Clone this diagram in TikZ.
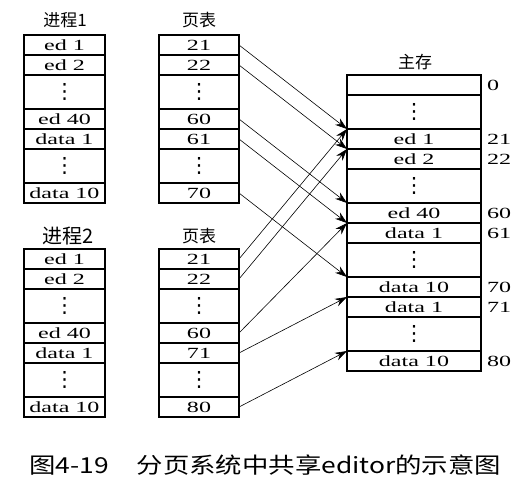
\documentclass[tikz,border=0pt]{standalone}
\usepackage{fontspec}
\setmainfont{Liberation Serif}
\newfontfamily\cjk{Noto Sans CJK SC}
\newfontfamily\capfont[FakeStretch=1.2]{Noto Sans CJK SC}
\newfontfamily\cellfont[FakeStretch=1.55]{Liberation Serif}
\newfontfamily\symfont{DejaVu Sans}
\usepackage{tikz}
\usetikzlibrary{arrows.meta, positioning}
\newcommand{\vdotsbox}{{\symfont\fontsize{21}{21}\selectfont ⋮}}

\begin{document}
\begin{tikzpicture}[x=1pt, y=-1pt,
        cell/.style={draw, line width=1.6pt, minimum width=#1, minimum height=20pt,
                inner sep=0pt, outer sep=0pt, font=\cellfont\fontsize{15.5}{15.5}\selectfont},
        cell/.default=81pt,
        gapcell/.style={cell=#1, minimum height=34pt},
        gapcell/.default=81pt,
        head/.style={font=\cjk\fontsize{17}{17}\selectfont},
        addr/.style={anchor=west, inner sep=0pt, font=\cellfont\fontsize{15.5}{15.5}\selectfont},
        link/.style={-{Stealth[length=12pt, width=8pt]}, line width=0.6pt}]
        \useasboundingbox (0,0) rectangle (526,486);

        % process 1 and its page table
        \node[head] (h1) at (65,20) {进程1};
        \node[cell, anchor=north west] (p1-1) at (24,35) {ed 1};
        \node[cell, below=0pt of p1-1] (p1-2) {ed 2};
        \node[gapcell, below=0pt of p1-2] (p1-d1) {\vdotsbox};
        \node[cell, below=0pt of p1-d1] (p1-40) {ed 40};
        \node[cell, below=0pt of p1-40] (p1-41) {data 1};
        \node[gapcell, below=0pt of p1-41] (p1-d2) {\vdotsbox};
        \node[cell, below=0pt of p1-d2] (p1-50) {data 10};

        \node[head] (ph1) at (199,20) {页表};
        \node[cell=80pt, anchor=north west] (pt1-21) at (159,35) {21};
        \node[cell=80pt, below=0pt of pt1-21] (pt1-22) {22};
        \node[gapcell=80pt, below=0pt of pt1-22] (pt1-d1) {\vdotsbox};
        \node[cell=80pt, below=0pt of pt1-d1] (pt1-60) {60};
        \node[cell=80pt, below=0pt of pt1-60] (pt1-61) {61};
        \node[gapcell=80pt, below=0pt of pt1-61] (pt1-d2) {\vdotsbox};
        \node[cell=80pt, below=0pt of pt1-d2] (pt1-70) {70};

        % process 2 and its page table
        \node[head, font=\cjk\fontsize{20}{20}\selectfont] (h2) at (68,236) {进程2};
        \node[cell, anchor=north west] (p2-1) at (24,249) {ed 1};
        \node[cell, below=0pt of p2-1] (p2-2) {ed 2};
        \node[gapcell, below=0pt of p2-2] (p2-d1) {\vdotsbox};
        \node[cell, below=0pt of p2-d1] (p2-40) {ed 40};
        \node[cell, below=0pt of p2-40] (p2-41) {data 1};
        \node[gapcell, below=0pt of p2-41] (p2-d2) {\vdotsbox};
        \node[cell, below=0pt of p2-d2] (p2-50) {data 10};

        \node[head] (ph2) at (199,236) {页表};
        \node[cell=80pt, anchor=north west] (pt2-21) at (159,249) {21};
        \node[cell=80pt, below=0pt of pt2-21] (pt2-22) {22};
        \node[gapcell=80pt, below=0pt of pt2-22] (pt2-d1) {\vdotsbox};
        \node[cell=80pt, below=0pt of pt2-d1] (pt2-60) {60};
        \node[cell=80pt, below=0pt of pt2-60] (pt2-71) {71};
        \node[gapcell=80pt, below=0pt of pt2-71] (pt2-d2) {\vdotsbox};
        \node[cell=80pt, below=0pt of pt2-d2] (pt2-80) {80};

        % main memory
        \node[head] (hm) at (415,62) {主存};
        \node[cell=134pt, anchor=north west] (m0) at (347,75) {};
        \node[gapcell=134pt, below=0pt of m0] (m-d1) {\vdotsbox};
        \node[cell=134pt, below=0pt of m-d1] (m21) {ed 1};
        \node[cell=134pt, below=0pt of m21] (m22) {ed 2};
        \node[gapcell=134pt, below=0pt of m22] (m-d2) {\vdotsbox};
        \node[cell=134pt, below=0pt of m-d2] (m60) {ed 40};
        \node[cell=134pt, below=0pt of m60] (m61) {data 1};
        \node[gapcell=134pt, below=0pt of m61] (m-d3) {\vdotsbox};
        \node[cell=134pt, below=0pt of m-d3] (m70) {data 10};
        \node[cell=134pt, below=0pt of m70] (m71) {data 1};
        \node[gapcell=134pt, below=0pt of m71] (m-d4) {\vdotsbox};
        \node[cell=134pt, below=0pt of m-d4] (m80) {data 10};

        \node[addr] (a0) at ([xshift=6pt]m0.east) {0};
        \node[addr] (a21) at ([xshift=6pt]m21.east) {21};
        \node[addr] (a22) at ([xshift=6pt]m22.east) {22};
        \node[addr] (a60) at ([xshift=6pt]m60.east) {60};
        \node[addr] (a61) at ([xshift=6pt]m61.east) {61};
        \node[addr] (a70) at ([xshift=6pt]m70.east) {70};
        \node[addr] (a71) at ([xshift=6pt]m71.east) {71};
        \node[addr] (a80) at ([xshift=6pt]m80.east) {80};

        % page table entries to frames
        \draw[link] (pt1-21.east) -- (m21.north west);
        \draw[link] (pt1-22.east) -- (m22.north west);
        \draw[link] (pt1-60.east) -- (m60.north west);
        \draw[link] (pt1-61.east) -- (m61.north west);
        \draw[link] (pt1-70.east) -- (m70.north west);
        \draw[link] (pt2-21.east) -- (m21.north west);
        \draw[link] (pt2-22.east) -- (m22.north west);
        \draw[link] (pt2-60.east) -- (m61.north west);
        \draw[link] (pt2-71.east) -- (m71.north west);
        \draw[link] (pt2-80.east) -- (m80.north west);

        \node[anchor=west, inner sep=0pt, font=\capfont\fontsize{22}{22}\selectfont] (cap) at (29,465)
                {图4-19\hspace{28pt}分页系统中共享editor的示意图};
\end{tikzpicture}
\end{document}
